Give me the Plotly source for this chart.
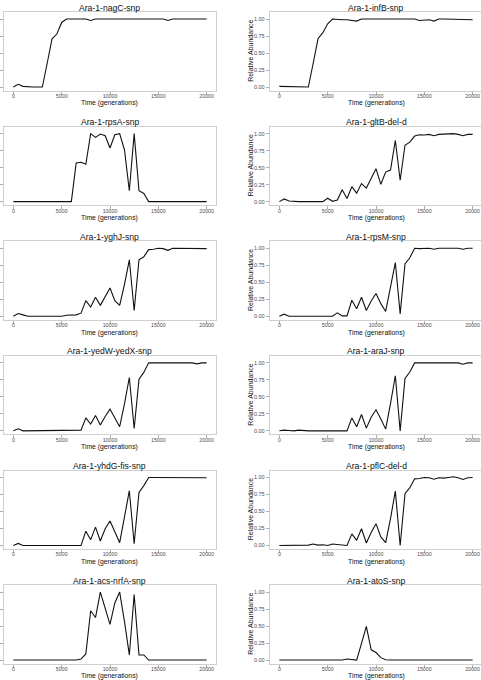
import plotly.graph_objects as go

time = [0, 500, 1000, 1500, 2000, 2500, 3000, 3500, 4000, 4500,
        5000, 5500, 6000, 6500, 7000, 7500, 8000, 8500, 9000, 9500,
        10000, 10500, 11000, 11500, 12000, 12500, 13000, 13500, 14000, 14500,
        15000, 15500, 16000, 16500, 17000, 17500, 18000, 18500, 19000, 19500, 20000]

titles = ["Ara-1-nagC-snp", "Ara-1-infB-snp",
          "Ara-1-rpsA-snp", "Ara-1-gltB-del-d",
          "Ara-1-yghJ-snp", "Ara-1-rpsM-snp",
          "Ara-1-yedW-yedX-snp", "Ara-1-araJ-snp",
          "Ara-1-yhdG-fis-snp", "Ara-1-pflC-del-d",
          "Ara-1-acs-nrfA-snp", "Ara-1-atoS-snp"]

nagC = [0, 0.04, 0.01, 0, 0, 0, 0, 0.35, 0.71, 0.78,
        0.95, 1.0, 1.0, 1.0, 1.0, 1.0, 0.98, 1.0, 1.0, 1.0,
        0.99, 1.0, 1.0, 1.0, 1.0, 1.0, 1.0, 0.995, 0.99, 0.99,
        1.0, 1.0, 0.98, 1.0, 1.0, 1.0, 1.0, 1.0, 1.0, 1.0, 1.0]
infB = [0.01, 0.01, 0.01, 0, 0, 0, 0, 0.35, 0.71, 0.8,
        0.93, 1.0, 0.99, 0.99, 0.99, 0.98, 0.97, 1.0, 1.0, 1.0,
        0.99, 1.0, 1.0, 1.0, 1.0, 1.0, 1.0, 0.99, 1.0, 0.98,
        0.99, 0.99, 0.97, 1.0, 1.0, 1.0, 1.0, 1.0, 1.0, 1.0, 0.99]
rpsA = [0, 0, 0, 0, 0, 0, 0, 0, 0, 0,
        0, 0, 0, 0.57, 0.58, 0.55, 1.0, 0.945, 0.995, 0.97,
        0.79, 0.985, 1.0, 0.76, 0.16, 1.0, 0.16, 0.12, 0, 0,
        0, 0, 0, 0, 0, 0, 0, 0, 0.01, 0.005, 0]
gltB = [0, 0.04, 0.01, 0, 0, 0, 0, 0, 0, 0,
        0.05, 0.005, 0.025, 0.175, 0.045, 0.22, 0.125, 0.265, 0.2, 0.34,
        0.485, 0.255, 0.435, 0.465, 0.9, 0.315, 0.83, 0.875, 0.965, 0.985,
        0.98, 0.99, 0.97, 0.99, 0.995, 1.0, 1.0, 0.99, 0.97, 0.99, 0.99]
yghJ = [0, 0.04, 0.02, 0, 0, 0, 0, 0, 0, 0,
        0, 0.015, 0.02, 0.02, 0.045, 0.23, 0.135, 0.28, 0.16, 0.28,
        0.415, 0.23, 0.16, 0.47, 0.83, 0.085, 0.83, 0.875, 0.98, 0.985,
        1.0, 0.995, 0.97, 1.0, 1.0, 1.0, 1.0, 1.0, 1.0, 0.99, 0.995]
rpsM = [0, 0.03, 0, 0, 0, 0, 0, 0, 0, 0,
        0, 0, 0.05, 0.005, 0.005, 0.235, 0.11, 0.28, 0.085, 0.225,
        0.335, 0.185, 0.07, 0.41, 0.79, 0.035, 0.77, 0.86, 1.0, 0.995,
        1.0, 1.0, 0.985, 1.0, 1.0, 1.0, 1.0, 1.0, 0.985, 1.0, 1.0]
yedW = [0, 0.03, 0, 0, 0, 0, 0, 0, 0, 0,
        0, 0, 0.01, 0, 0.01, 0.19, 0.1, 0.225, 0.085, 0.21,
        0.32, 0.19, 0.06, 0.4, 0.785, 0.035, 0.76, 0.86, 1.0, 1.0,
        1.0, 1.0, 1.0, 1.0, 1.0, 1.0, 1.0, 1.0, 0.985, 1.0, 1.0]
araJ = [0, 0.01, 0.005, 0, 0.01, 0, 0, 0, 0, 0,
        0, 0, 0, 0, 0, 0.19, 0.06, 0.24, 0.04, 0.2,
        0.31, 0.175, 0.025, 0.4, 0.81, 0, 0.77, 0.865, 1.0, 1.0,
        1.0, 1.0, 1.0, 1.0, 1.0, 1.0, 1.0, 1.0, 0.98, 1.0, 1.0]
yhdG = [0, 0.03, 0, 0, 0, 0, 0, 0, 0, 0,
        0, 0, 0.005, 0, 0, 0.21, 0.085, 0.27, 0.065, 0.245,
        0.36, 0.2, 0.04, 0.42, 0.805, 0.025, 0.78, 0.88, 1.0, 1.0,
        1.0, 1.0, 0.99, 1.0, 1.0, 1.0, 1.0, 1.0, 0.99, 0.995, 0.995]
pflC = [0, 0, 0.01, 0, 0.01, 0, 0.005, 0.02, 0.005, 0.01,
        0, 0.02, 0.01, 0.005, 0, 0.17, 0.075, 0.245, 0.035, 0.19,
        0.32, 0.125, 0.04, 0.395, 0.8, 0, 0.76, 0.85, 0.98, 0.985,
        1.0, 0.995, 0.975, 0.995, 0.99, 1.0, 1.01, 0.995, 0.97, 0.995, 1.0]
acs = [0, 0, 0, 0, 0, 0, 0, 0, 0, 0,
       0, 0, 0, 0, 0.015, 0.09, 0.725, 0.625, 1.0, 0.765,
       0.525, 0.84, 1.0, 0.565, 0.075, 0.965, 0.075, 0.075, 0, 0,
       0, 0, 0, 0, 0, 0, 0, 0, 0, 0, 0]
atoS = [0, 0, 0, 0, 0, 0, 0, 0, 0, 0,
        0, 0, 0, 0, 0.015, 0.005, 0, 0.245, 0.495, 0.15,
        0.11, 0.035, 0.005, 0, 0, 0, 0, 0, 0, 0,
        0, 0, 0, 0, 0, 0, 0, 0, 0, 0, 0]

series = [nagC, infB, rpsA, gltB, yghJ, rpsM, yedW, araJ, yhdG, pflC, acs, atoS]

x_ticks = [0, 5000, 10000, 15000, 20000]
x_ticktext = ["0", "5000", "10000", "15000", "20000"]
y_ticks = [0, 0.25, 0.5, 0.75, 1.0]
y_ticktext = ["0.00", "0.25", "0.50", "0.75", "1.00"]

W, H = 481, 680
FONT = "Liberation Sans, Arial, sans-serif"
BORDER = "#CFCFCF"
TICKC = "#AFAFAF"
LABC = "#4D4D4D"

col_left = [3.7, 269.7]
panel_w = 212.6
row_top0 = 12.1
row_step = 114.6
panel_h = 78.5

fig = go.Figure()
layout = dict(width=W, height=H, margin=dict(l=0, r=0, t=0, b=0),
              paper_bgcolor="white", plot_bgcolor="white",
              showlegend=False, font=dict(family=FONT, color="#000"))
annotations = []

for i, (name, vals) in enumerate(zip(titles, series)):
    r, c = divmod(i, 2)
    ax = "" if i == 0 else str(i + 1)
    left = col_left[c]
    right = left + panel_w
    dom_right = min(right, W)
    xr_hi = -1000 + 22000 * (dom_right - left) / panel_w
    top = row_top0 + row_step * r
    bottom = top + panel_h
    xdom = [left / W, dom_right / W]
    ydom = [1 - bottom / H, 1 - top / H]
    fig.add_trace(go.Scatter(x=time, y=vals, mode="lines",
                             line=dict(color="#111111", width=1.1),
                             xaxis="x" + ax, yaxis="y" + ax,
                             hoverinfo="skip"))
    layout["xaxis" + ax] = dict(domain=xdom, range=[-1000, xr_hi], anchor="y" + ax,
                                tickvals=x_ticks, ticktext=x_ticktext,
                                ticks="outside", ticklen=3, tickwidth=0.8, tickcolor=TICKC,
                                ticklabelstandoff=-3,
                                tickfont=dict(size=5.3, color=LABC, family=FONT),
                                showline=True, mirror=True, linecolor=BORDER, linewidth=1,
                                showgrid=False, zeroline=False, fixedrange=True)
    layout["yaxis" + ax] = dict(domain=ydom, range=[-0.0525, 1.1025], anchor="x" + ax,
                                tickvals=y_ticks, ticktext=y_ticktext,
                                showticklabels=(c == 1),
                                ticks="outside", ticklen=3, tickwidth=0.8, tickcolor=TICKC,
                                tickfont=dict(size=5.5, color=LABC, family=FONT),
                                showline=True, mirror=True, linecolor=BORDER, linewidth=1,
                                showgrid=False, zeroline=False, fixedrange=True)
    cx = (left + right) / 2 / W
    annotations.append(dict(text=name, xref="paper", yref="paper",
                            x=cx, y=1 - (top - 4.5) / H, xanchor="center", yanchor="middle",
                            showarrow=False, font=dict(size=8.6, color="#111", family=FONT)))
    annotations.append(dict(text="Time (generations)", xref="paper", yref="paper",
                            x=cx, y=1 - (bottom + 12.8) / H, xanchor="center", yanchor="middle",
                            showarrow=False, font=dict(size=6.8, color="#111", family=FONT)))
    if c == 1:
        annotations.append(dict(text="Relative Abundance", xref="paper", yref="paper",
                                x=250.5 / W, y=(ydom[0] + ydom[1]) / 2, xanchor="center",
                                yanchor="middle", textangle=-90,
                                showarrow=False, font=dict(size=7, color="#111", family=FONT)))

layout["annotations"] = annotations
fig.update_layout(**layout)
fig.write_html("out.html")
